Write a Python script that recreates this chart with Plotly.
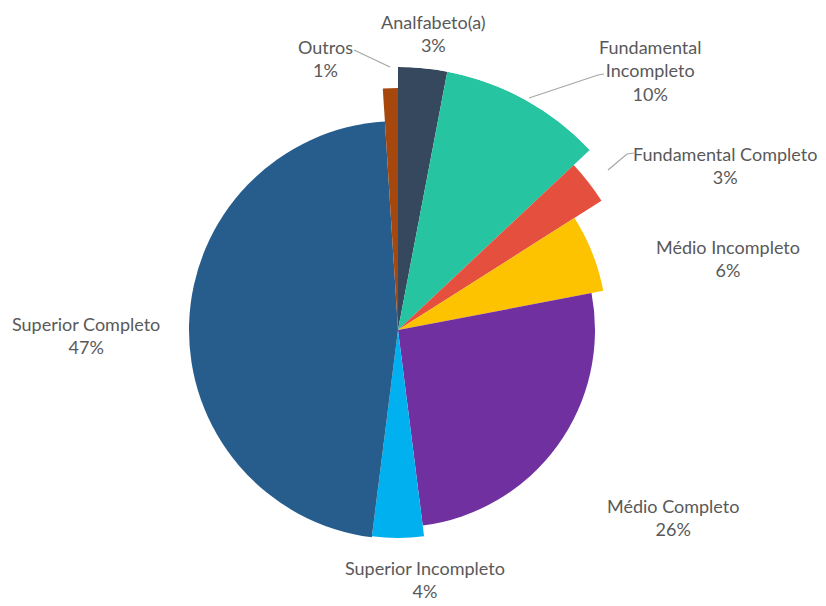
import plotly.graph_objects as go

# ---- data ----
categories = ["Analfabeto(a)", "Fundamental Incompleto", "Fundamental Completo",
              "Médio Incompleto", "Médio Completo", "Superior Incompleto",
              "Superior Completo", "Outros"]
percentages = [3, 10, 3, 6, 26, 4, 47, 1]

# ---- styles ----
colors = ["#35485e", "#27c4a2", "#e5503e", "#fdc200", "#7030a0",
          "#00b0ef", "#265d8d", "#a6480e"]
radius_px = [263, 263, 241, 209, 197, 208, 209, 242]   # per-slice explosion look
display_names = ["Analfabeto(a)", "Fundamental<br>Incompleto", "Fundamental Completo",
                 "Médio Incompleto", "Médio Completo", "Superior Incompleto",
                 "Superior Completo", "Outros"]
# label centres in window pixels
label_px = [(433, 34), (650, 71), (725, 166), (728, 258), (673, 517),
            (425, 579), (86, 335), (325, 58)]

W, H = 826, 606
OFF = 8  # page body margin
CX, CY, RMAX = 398 - OFF, 330 - OFF, 263

# angular positions derived from the percentages
total = sum(percentages)
widths = [p / total * 360 for p in percentages]
thetas = []
acc = 0
for w in widths:
    thetas.append(acc + w / 2)
    acc += w

fig = go.Figure()
fig.add_trace(go.Barpolar(
    r=radius_px, theta=thetas, width=widths,
    marker=dict(color=colors, line=dict(width=0)),
    text=categories, hoverinfo="text", showlegend=False,
))

def px(x, y):
    return (x - OFF) / W, 1 - (y - OFF) / H

annotations = []
for name, p, (lx, ly) in zip(display_names, percentages, label_px):
    ax_, ay_ = px(lx, ly)
    annotations.append(dict(
        x=ax_, y=ay_, xref="paper", yref="paper", showarrow=False,
        text=f"{name}<br>{p}%", xanchor="center", yanchor="middle",
        font=dict(family="Lato", size=18, color="#595959"), align="center",
    ))

leaders = [
    [(354, 50), (390, 67)],
    [(604, 74), (598, 75), (529, 98)],
    [(634, 153), (627, 154), (608, 170)],
]
shapes = []
for pts in leaders:
    path = ""
    for i, (x, y) in enumerate(pts):
        fx, fy = px(x, y)
        path += ("M" if i == 0 else " L") + f" {fx} {fy}"
    shapes.append(dict(type="path", path=path, xref="paper", yref="paper",
                       line=dict(color="#a6a6a6", width=1.2)))

fig.update_layout(
    width=W, height=H,
    margin=dict(l=0, r=0, t=0, b=0),
    paper_bgcolor="white", plot_bgcolor="white",
    polar=dict(
        domain=dict(x=[(CX - RMAX) / W, (CX + RMAX) / W],
                    y=[(H - CY - RMAX) / H, (H - CY + RMAX) / H]),
        bgcolor="rgba(0,0,0,0)",
        radialaxis=dict(visible=False, range=[0, RMAX]),
        angularaxis=dict(visible=False, rotation=90, direction="clockwise"),
        bargap=0,
    ),
    annotations=annotations,
    shapes=shapes,
)

fig.write_html("out.html")
